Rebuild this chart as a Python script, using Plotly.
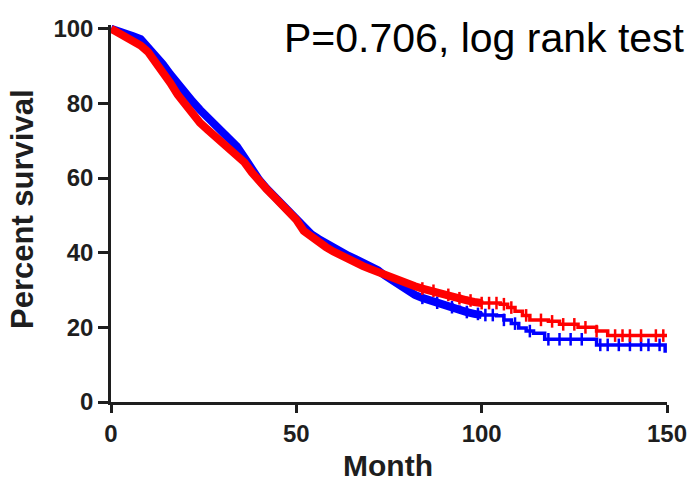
import numpy as np
import plotly.graph_objects as go

# Kaplan-Meier curves (months, percent survival)
blue_t = [0, 2, 4, 6, 8, 10, 12, 14, 16, 18, 20, 22, 24, 26, 28, 30, 32, 34, 36, 38, 40,
          42, 44, 46, 48, 50, 52, 54, 56, 58, 60, 62, 64, 66, 68, 70, 72, 74, 76, 78, 80,
          82, 84, 86, 88, 90, 92, 94, 96, 98, 100, 104, 106, 108, 110, 112, 114, 117,
          131, 149.5]
blue_s = [100, 99.5, 98.8, 98.0, 97.2, 95.0, 93.3, 90.5, 87.8, 85.2, 82.7, 80.5, 78.3, 76.3,
          74.5, 72.8, 70.6, 68.4, 65.5, 62.3, 59.5, 57.2, 55.2, 53.3, 51.2, 49.3, 46.8, 45.0,
          43.7, 42.5, 41.2, 40.2, 39.2, 38.3, 37.4, 36.5, 35.3, 33.8, 32.4, 30.9, 29.6, 28.7,
          27.9, 27.2, 26.6, 26.0, 25.4, 24.8, 24.1, 23.6, 23.3, 23.1, 22.0, 21.0, 19.8, 19.0,
          18.4, 16.8, 15.3, 13.2]

red_t = [0, 2, 4, 6, 8, 10, 12, 14, 16, 18, 20, 22, 24, 26, 28, 30, 32, 34, 36, 38, 40,
         42, 44, 46, 48, 50, 52, 54, 56, 58, 60, 62, 64, 66, 68, 70, 72, 74, 76, 78, 80,
         82, 84, 86, 88, 90, 92, 94, 96, 98, 100, 105, 107, 109, 111, 113, 118, 121, 126,
         131, 134, 150]
red_s = [100, 99.0, 98.0, 96.8, 95.5, 93.8, 91.2, 88.5, 85.5, 82.3, 79.5, 77.0, 74.8, 73.0,
         71.3, 69.7, 68.0, 66.3, 64.2, 61.5, 59.0, 57.0, 55.0, 53.0, 50.8, 48.8, 45.8, 44.2,
         42.8, 41.5, 40.3, 39.2, 38.2, 37.3, 36.4, 35.6, 34.8, 33.9, 33.0, 32.3, 31.6, 31.0,
         30.4, 29.8, 29.2, 28.7, 28.3, 27.8, 27.2, 26.8, 26.5, 26.2, 25.3, 24.3, 23.2, 22.0,
         21.6, 20.8, 20.0, 19.0, 17.8, 17.8]

# censored observations (tick marks) visible in the tail
blue_cens = [84, 88, 92, 96, 99, 101, 103, 106, 109, 113, 118, 121, 124, 127, 132, 134,
             137, 140, 143, 145, 148]
red_cens = [84, 87, 91, 94, 97, 100, 102, 104, 106, 108, 112, 116, 119, 122, 125, 128,
            131, 136, 138, 140, 143, 147, 149]

x_ticks = [0, 50, 100, 150]
y_ticks = [0, 20, 40, 60, 80, 100]

BLUE = "#0000FF"
RED = "#FF0000"
INK = "#1e1e1e"
FONT = "Arial, Liberation Sans, sans-serif"


def step_value(ts, ss, t):
    idx = np.searchsorted(ts, t, side="right") - 1
    return np.asarray(ss)[idx]


fig = go.Figure()

for t, s, cens, col in [(blue_t, blue_s, blue_cens, BLUE), (red_t, red_s, red_cens, RED)]:
    t = np.asarray(t, dtype=float)
    s = np.asarray(s, dtype=float)
    early = t <= 100
    late = t >= 90
    # dense early part: thick band of overlapping censor ticks
    fig.add_trace(go.Scatter(x=t[early], y=s[early], mode="lines",
                             line=dict(color=col, width=8), hoverinfo="skip",
                             showlegend=False))
    # tail as a step curve
    fig.add_trace(go.Scatter(x=t[late], y=s[late], mode="lines",
                             line=dict(color=col, width=3.5, shape="hv"),
                             showlegend=False))
    cy = step_value(t, s, np.asarray(cens, dtype=float))
    fig.add_trace(go.Scatter(x=cens, y=cy, mode="markers",
                             marker=dict(symbol="line-ns-open", size=9, color=col,
                                         line=dict(color=col, width=2.5)),
                             showlegend=False))

axis_font = dict(family=FONT, size=24, color=INK)

fig.update_layout(
    width=693, height=482,
    margin=dict(l=111, r=26, t=25, b=80, autoexpand=False),
    paper_bgcolor="white", plot_bgcolor="white",
    xaxis=dict(range=[0, 150], tickvals=x_ticks, ticktext=[f"<b>{v}</b>" for v in x_ticks],
               showgrid=False, zeroline=False, showline=True, linecolor=INK,
               linewidth=2.5, ticks="outside", ticklen=8, tickwidth=2.5,
               tickcolor=INK, tickfont=axis_font, automargin=False),
    yaxis=dict(range=[0, 101], tickvals=y_ticks, ticktext=[f"<b>{v}</b>" for v in y_ticks],
               showgrid=False, zeroline=False, showline=True, linecolor=INK,
               linewidth=2.5, ticks="outside", ticklen=10, tickwidth=2.5,
               tickcolor=INK, tickfont=axis_font, automargin=False),
    annotations=[
        dict(text="<b>Percent survival</b>", xref="paper", yref="paper", x=0, y=0.512,
             xanchor="center", yanchor="middle", xshift=-88, textangle=-90, showarrow=False,
             font=dict(family=FONT, size=31, color=INK)),
        dict(text="<b>Month</b>", xref="paper", yref="paper", x=0.5, y=0,
             xanchor="center", yanchor="top", yshift=-45, xshift=-1, showarrow=False,
             font=dict(family=FONT, size=30, color=INK)),
        dict(text="P=0.706, log rank test", xref="paper", yref="paper", x=1, y=1,
             xanchor="right", yanchor="top", xshift=20, yshift=12, showarrow=False,
             font=dict(family=FONT, size=41, color="black")),
    ],
)

fig.write_html("out.html", config={"displayModeBar": False},
               post_script="document.body.style.margin='0';")
